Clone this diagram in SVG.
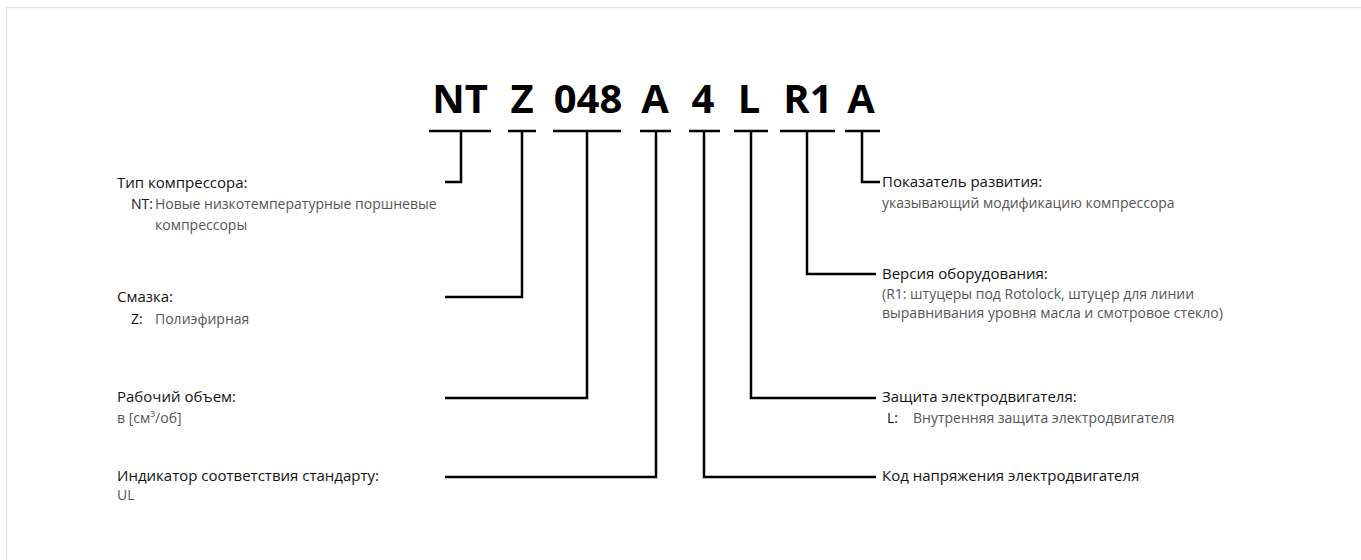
<svg xmlns="http://www.w3.org/2000/svg" width="1361" height="560" viewBox="0 0 1361 560">
<style>
.title{font-family:"Open Sans","Liberation Sans",sans-serif;font-weight:700;font-size:40px;fill:#000;text-anchor:middle}
.h{font-family:"Open Sans","Liberation Sans",sans-serif;font-size:15px;fill:#111}
.s{font-family:"Open Sans","Liberation Sans",sans-serif;font-size:14px;fill:#555}
.k{font-family:"Open Sans","Liberation Sans",sans-serif;font-size:14px;fill:#111}
.ln{fill:none;stroke:#000;stroke-width:2.5}
</style>
<rect width="1361" height="560" fill="#fff"/>
<path d="M6.5 560V7.5H1361" fill="none" stroke="#e3e6e6" stroke-width="1.5"/>
<g id="code">
<text class="title" x="460" y="113">NT</text>
<text class="title" x="522" y="113">Z</text>
<text class="title" x="588" y="113">048</text>
<text class="title" x="655" y="113">A</text>
<text class="title" x="703" y="113">4</text>
<text class="title" x="749" y="113">L</text>
<text class="title" x="808" y="113">R1</text>
<text class="title" x="861" y="113">A</text>
</g>
<g id="connectors">
<path class="ln" d="M429 131H491M461 131V182H445"/>
<path class="ln" d="M508 131H536M522 131V297H445"/>
<path class="ln" d="M553 131H621M587 131V398H445"/>
<path class="ln" d="M640 131H671M656 131V477H445"/>
<path class="ln" d="M689 131H720M704 131V477H876"/>
<path class="ln" d="M734 131H768M751 131V398H876"/>
<path class="ln" d="M780 131H835M807 131V274H876"/>
<path class="ln" d="M845 131H880M862 131V182H880"/>
</g>
<g id="type">
<text class="h" x="117" y="188">Тип компрессора:</text>
<text class="k" x="131" y="209">NT:</text>
<text class="s" x="155" y="209">Новые низкотемпературные поршневые</text>
<text class="s" x="155" y="230">компрессоры</text>
</g>
<g id="lubricant">
<text class="h" x="117" y="302">Смазка:</text>
<text class="k" x="131" y="324">Z:</text>
<text class="s" x="155" y="324">Полиэфирная</text>
</g>
<g id="displacement">
<text class="h" x="117" y="402">Рабочий объем:</text>
<text class="s" x="117" y="423">в [см³/об]</text>
</g>
<g id="standard">
<text class="h" x="117" y="481">Индикатор соответствия стандарту:</text>
<text class="s" x="117" y="500">UL</text>
</g>
<g id="evolution">
<text class="h" x="882" y="187">Показатель развития:</text>
<text class="s" x="882" y="208">указывающий модификацию компрессора</text>
</g>
<g id="version">
<text class="h" x="882" y="279">Версия оборудования:</text>
<text class="s" x="882" y="299">(R1: штуцеры под Rotolock, штуцер для линии</text>
<text class="s" x="882" y="318">выравнивания уровня масла и смотровое стекло)</text>
</g>
<g id="protection">
<text class="h" x="882" y="402">Защита электродвигателя:</text>
<text class="k" x="887" y="423">L:</text>
<text class="s" x="913" y="423">Внутренняя защита электродвигателя</text>
</g>
<g id="voltage">
<text class="h" x="882" y="481">Код напряжения электродвигателя</text>
</g>
</svg>
